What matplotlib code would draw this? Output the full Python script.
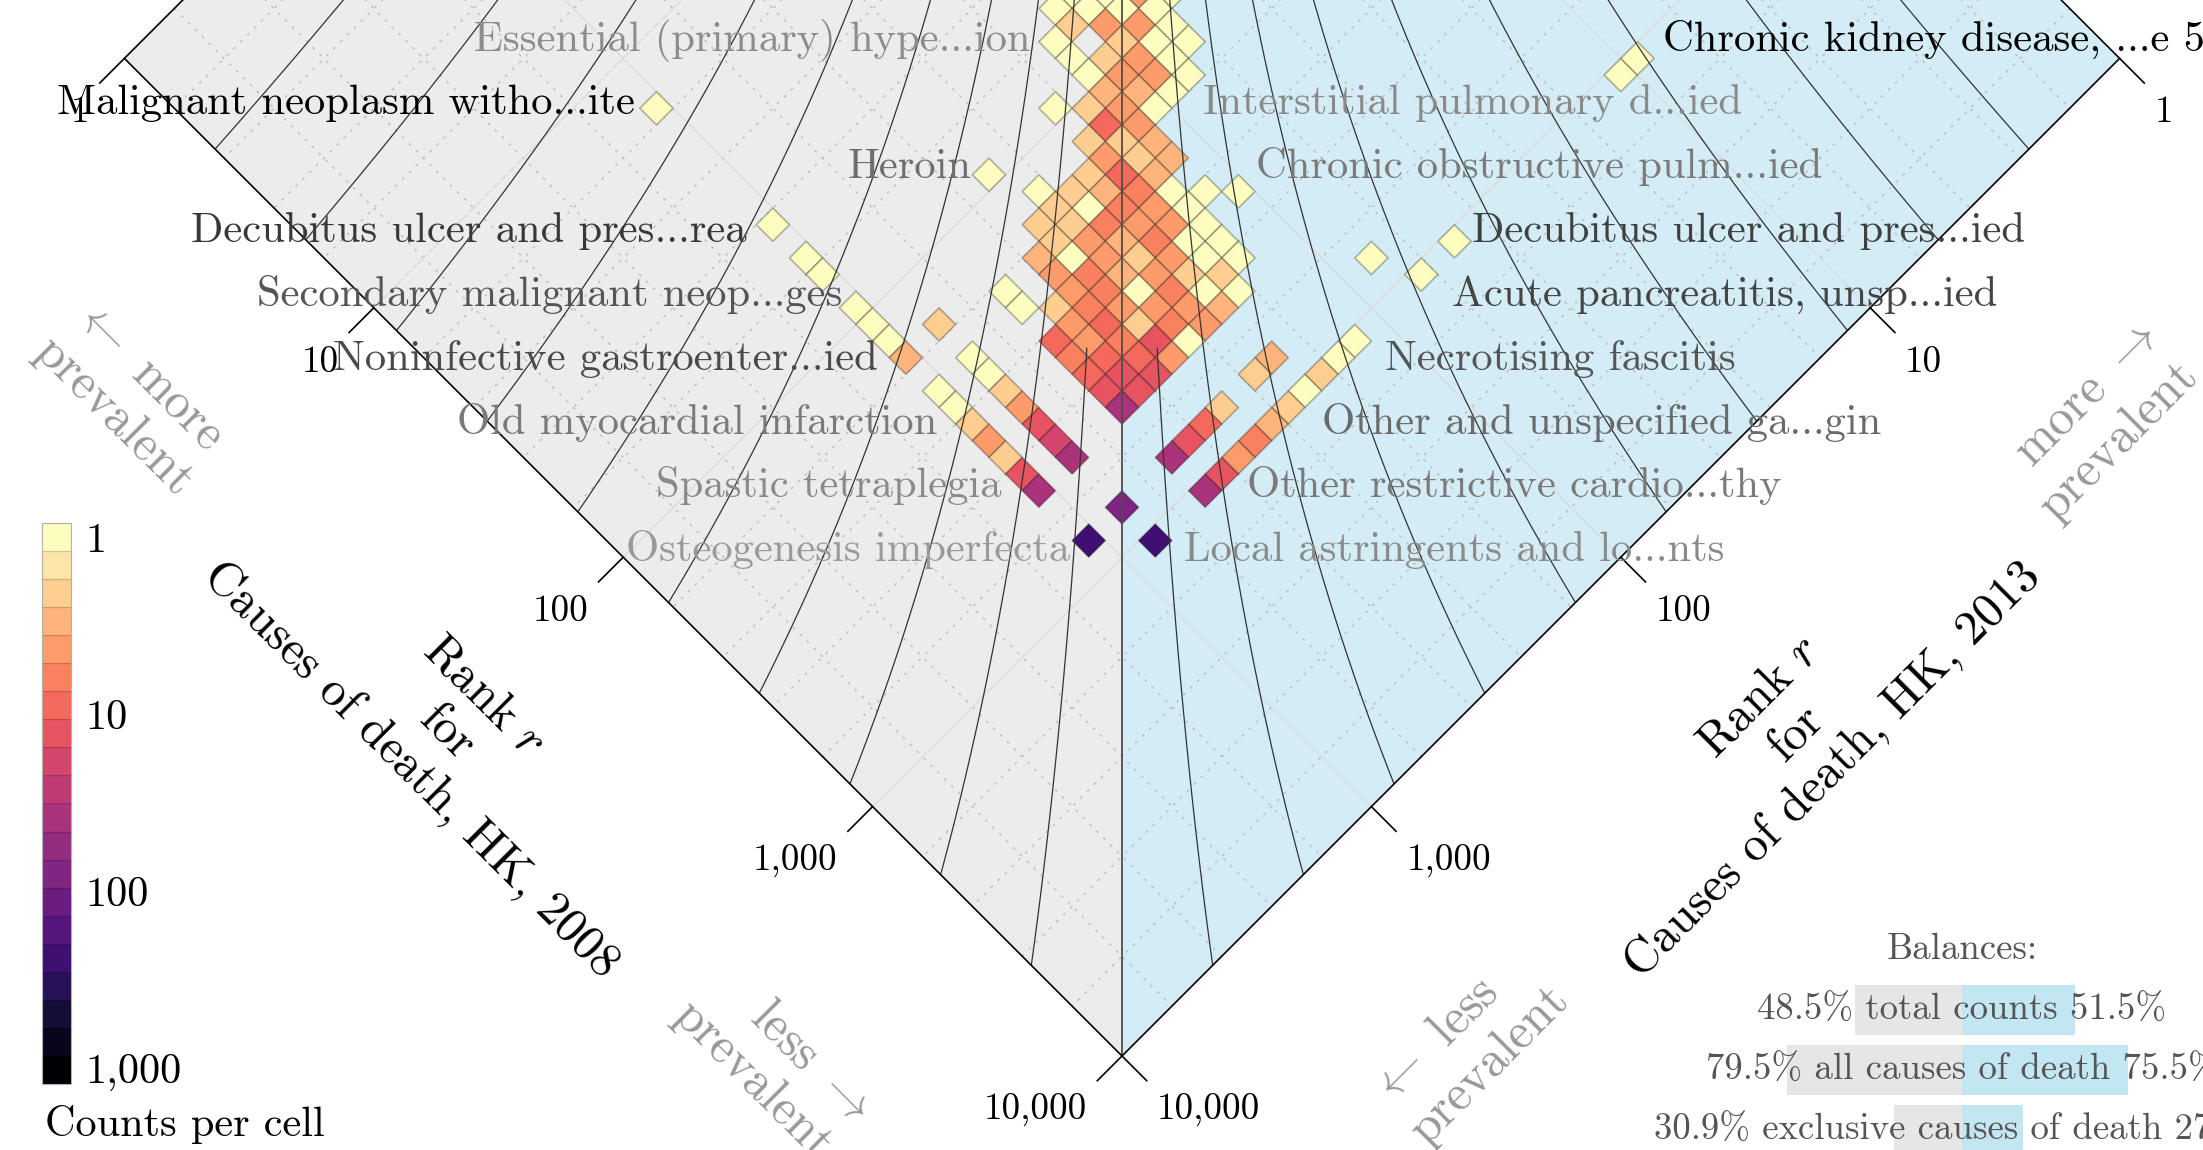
import numpy as np
import matplotlib.pyplot as plt
from matplotlib.colors import ListedColormap, LogNorm
from matplotlib.collections import PolyCollection
from matplotlib.patches import Polygon
from matplotlib.transforms import Affine2D

plt.rcParams['font.family'] = 'cmr10'
plt.rcParams['mathtext.fontset'] = 'cm'
plt.rcParams['axes.formatter.use_mathtext'] = True

# rank-rank histogram: 60 log bins over 4 decades of rank for each year
# bin of log10(rank) in 2008, bin of log10(rank) in 2013, causes in that cell
bin_2008 = [26, 27, 28, 29, 26, 27, 28, 29, 27, 28, 29, 30, 27, 29, 30, 31,
            28, 29, 30, 31, 29, 30, 31, 32, 30, 31, 32, 29, 30, 31, 32, 31, 32,
            31, 32, 33, 32, 33, 34, 29, 32, 33, 34,
            31, 32, 33, 34, 35, 36, 37, 32, 33, 34, 35, 36,
            32, 33, 34, 35, 36, 37, 33, 34, 35, 36, 37, 38,
            33, 34, 35, 36, 37, 38, 39, 34, 35, 36, 37, 38, 39,
            33, 35, 36, 37, 38, 39, 40, 34, 35, 36, 37, 38, 39, 40,
            36, 37, 38, 39, 40, 36, 37, 38, 39, 40, 37, 38, 39, 40,
            38, 39, 40, 39, 40, 40,
            17, 24, 26, 27, 29, 30, 31, 32, 32,
            34, 35, 36, 37, 38, 39, 40, 34, 35, 36, 37, 38, 39, 40,
            43, 43, 45,
            45, 45, 45, 43, 45,
            45, 45, 45, 45, 45, 45, 45, 45, 45, 45, 43, 43, 43, 43, 43, 43]
bin_2013 = [29, 28, 27, 26, 30, 29, 28, 27, 30, 29, 28, 27, 31, 29, 28, 27,
            31, 30, 29, 28, 31, 30, 29, 28, 31, 30, 29, 33, 32, 31, 30, 32, 31,
            33, 32, 31, 33, 32, 31, 37, 34, 33, 32,
            36, 35, 34, 33, 32, 31, 30, 36, 35, 34, 33, 32,
            37, 36, 35, 34, 33, 32, 37, 36, 35, 34, 33, 32,
            38, 37, 36, 35, 34, 33, 32, 38, 37, 36, 35, 34, 33,
            40, 38, 37, 36, 35, 34, 33, 40, 39, 38, 37, 36, 35, 34,
            39, 38, 37, 36, 35, 40, 39, 38, 37, 36, 40, 39, 38, 37,
            40, 39, 38, 40, 39, 40,
            45, 45, 45, 45, 45, 45, 45, 45, 43,
            43, 43, 43, 43, 43, 43, 43, 45, 45, 45, 45, 45, 45, 45,
            45, 43, 43,
            15, 14, 25, 28, 27,
            31, 32, 33, 34, 35, 36, 37, 38, 39, 40, 34, 35, 37, 38, 39, 40]
cell_counts = [1, 1, 4, 1, 1, 1, 1, 1, 2, 4, 4, 1, 1, 2, 1, 1,
               1, 2, 4, 1, 1, 4, 5, 1, 3, 3, 1, 1, 2, 4, 1, 8, 4,
               2, 2, 3, 4, 2, 3, 1, 2, 9, 3,
               1, 2, 3, 6, 1, 1, 1, 2, 1, 6, 4, 1,
               2, 2, 6, 4, 4, 1, 2, 4, 3, 6, 1, 1,
               3, 1, 4, 2, 4, 1, 1, 4, 6, 3, 4, 2, 2,
               1, 4, 6, 1, 6, 1, 1, 1, 2, 6, 4, 4, 4, 3,
               4, 8, 2, 6, 4, 9, 4, 6, 12, 1, 6, 9, 9, 5,
               9, 14, 12, 14, 14, 35,
               1, 1, 1, 1, 1, 1, 1, 3, 2,
               1, 1, 2, 4, 12, 18, 35, 1, 1, 2, 4, 2, 14, 35,
               240, 80, 240,
               1, 1, 1, 1, 1,
               1, 1, 2, 1, 2, 3, 6, 4, 14, 35, 3, 2, 2, 9, 14, 35]

labels_2008 = ['Essential (primary) hype...ion', 'Malignant neoplasm witho...ite',
               'Heroin', 'Decubitus ulcer and pres...rea',
               'Secondary malignant neop...ges', 'Noninfective gastroenter...ied',
               'Old myocardial infarction', 'Spastic tetraplegia',
               'Osteogenesis imperfecta']
labels_2013 = ['Chronic kidney disease, ...e 5', 'Interstitial pulmonary d...ied',
               'Chronic obstructive pulm...ied', 'Decubitus ulcer and pres...ied',
               'Acute pancreatitis, unsp...ied', 'Necrotising fascitis',
               'Other and unspecified ga...gin', 'Other restrictive cardio...thy',
               'Local astringents and lo...nts']

tick_ranks = [1, 10, 100, 1000, 10000]
cbar_ticks = [1, 10, 100, 1000]

balance_names = ['total counts', 'all causes of death', 'exclusive causes of death']
balance_2008 = [48.5, 79.5, 30.9]
balance_2013 = [51.5, 75.5, 27.7]

# ---------------------------------------------------------------- layout
W, H = 2203, 1150
XC, YTOP, K = 1122, -939.2, 249.4   # pixel position of diagonal, top vertex, px per decade

fig = plt.figure(figsize=(W / 100, H / 100), dpi=100)
ax = fig.add_axes([0, 0, 1, 1])
ax.set_xlim(-XC / K, (W - XC) / K)
ax.set_ylim((H - YTOP) / K, -YTOP / K)
ax.axis('off')
# (log r_2008, log r_2013) -> rotated diamond
rot = Affine2D(np.array([[1., -1., 0.], [1., 1., 0.], [0., 0., 1.]])) + ax.transData

ax.add_patch(Polygon([(0, 0), (0, 4), (4, 4)], closed=True, fc='#ececec', ec='none',
                     transform=rot, zorder=0))
ax.add_patch(Polygon([(0, 0), (4, 0), (4, 4)], closed=True, fc='#d3ecf5', ec='none',
                     transform=rot, zorder=0))

# grid: dotted every 3 bins, faint solid at decades
for g in np.arange(1, 20) * 0.2:
    if abs(g - round(g)) < 1e-6:
        continue
    ax.plot([g, g], [0, 4], color='#bdbdbd', lw=1.0, ls=(0, (2, 5)), transform=rot, zorder=1)
    ax.plot([0, 4], [g, g], color='#bdbdbd', lw=1.0, ls=(0, (2, 5)), transform=rot, zorder=1)
for g in [1, 2, 3]:
    ax.plot([g, g], [0, 4], color='#dcdcdc', lw=1.0, transform=rot, zorder=1)
    ax.plot([0, 4], [g, g], color='#dcdcdc', lw=1.0, transform=rot, zorder=1)

# cells
cmap = ListedColormap(plt.get_cmap('magma_r')(np.linspace(0, 1, 20)))
norm = LogNorm(10 ** -0.08, 10 ** 3.089)
d = 4 / 60
verts = [[(i * d, j * d), ((i + 1) * d, j * d), ((i + 1) * d, (j + 1) * d), (i * d, (j + 1) * d)]
         for i, j in zip(bin_2008, bin_2013)]
cells = PolyCollection(verts, array=np.array(cell_counts, float), cmap=cmap, norm=norm,
                       edgecolors=(0, 0, 0, 0.28), linewidths=1.2, transform=rot, zorder=3)
ax.add_collection(cells)

# rank-turbulence divergence contours (alpha = 1/3)
alpha = 1 / 3
g = np.linspace(0, 4, 801)
U, V = np.meshgrid(g, g)
Z = np.abs(10 ** (-alpha * U) - 10 ** (-alpha * V))
levels = np.sort(10 ** (-alpha * 4 * np.arange(1, 11) / 11) - 10 ** (-alpha * 4))
ax.contour(U, V, Z, levels=levels[1:], colors='#333333', linewidths=0.9,
           transform=rot, zorder=4)
ax.contour(U, V, np.ma.masked_where(U + V < 5.16, Z), levels=levels[:1], colors='#333333',
           linewidths=0.9, transform=rot, zorder=4)

ax.plot([0, 4], [0, 4], color='#4d4d4d', lw=1.3, transform=rot, zorder=4)
ax.plot([0, 4, 4], [4, 4, 0], color='k', lw=1.2, transform=rot, zorder=5)
ax.plot([0, 0, 4], [4, 0, 0], color='k', lw=1.2, transform=rot, zorder=5)

# rank ticks along both lower edges
for r in tick_ranks:
    k = np.log10(r)
    ax.plot([k, k], [4, 4.099], color='k', lw=1.2, transform=rot, clip_on=False, zorder=5)
    ax.plot([4, 4.099], [k, k], color='k', lw=1.2, transform=rot, clip_on=False, zorder=5)
    x0, y0 = k - 4, k + 4
    ax.text(x0 - 0.14, y0 + 0.257, f'{r:,}', ha='right', va='baseline', fontsize=26.7)
    ax.text(-x0 + 0.14, y0 + 0.257, f'{r:,}', ha='left', va='baseline', fontsize=26.7)

# ---------------------------------------------------------------- annotations in pixels
pix = fig.add_axes([0, 0, 1, 1], zorder=5)
pix.set_xlim(0, W)
pix.set_ylim(H, 0)
pix.axis('off')

rows = 50.7 + 63.8 * np.arange(9)
left_ends = [1031, 635, 972, 747, 842, 878, 937, 1002, 1070]
right_starts = [1663, 1203, 1256, 1472, 1452, 1385, 1322, 1247, 1184]
left_colors = ['#8c8c8c', '#000000', '#6e6e6e', '#383838', '#555555', '#4a4a4a',
               '#7a7a7a', '#8a8a8a', '#9a9a9a']
right_colors = ['#000000', '#8a8a8a', '#7a7a7a', '#404040', '#454545', '#555555',
                '#6a6a6a', '#7a7a7a', '#8a8a8a']
for t, x, y, c in zip(labels_2008, left_ends, rows, left_colors):
    pix.text(x, y, t, ha='right', va='baseline', fontsize=30.7, color=c)
for t, x, y, c in zip(labels_2013, right_starts, rows, right_colors):
    pix.text(x, y, t, ha='left', va='baseline', fontsize=30.7, color=c, clip_on=True)

title_kw = dict(ha='center', va='center', multialignment='center', rotation_mode='anchor',
                fontsize=35)
pix.text(447, 733, 'Rank $r$\nfor\nCauses of death, HK, 2008', rotation=-45, **title_kw)
pix.text(1796, 734, 'Rank $r$\nfor\nCauses of death, HK, 2013', rotation=45, **title_kw)

prev_kw = dict(ha='center', va='center', rotation_mode='anchor', fontsize=36,
               color='#999999', linespacing=1.25)
pix.text(133, 398, '$\\leftarrow$ more\nprevalent', rotation=-45, multialignment='left', **prev_kw)
pix.text(2099, 421, 'more $\\rightarrow$\nprevalent', rotation=45, multialignment='right', **prev_kw)
pix.text(772, 1062, 'less $\\rightarrow$\nprevalent', rotation=-45, multialignment='right', **prev_kw)
pix.text(1470, 1045, '$\\leftarrow$ less\nprevalent', rotation=45, multialignment='left', **prev_kw)

# balances
bx, scale = 1962, 2.2
by = np.array([1010, 1070, 1130])
pix.barh(by, np.array(balance_2008) * scale, left=bx - np.array(balance_2008) * scale,
         height=50, color='#e6e6e6', zorder=1)
pix.barh(by, np.array(balance_2013) * scale, left=bx, height=50, color='#c2e6f2', zorder=1)
pix.text(bx, 959, 'Balances:', ha='center', va='baseline', fontsize=26.5, color='#555555')
for name, a, b, y in zip(balance_names, balance_2008, balance_2013, by):
    pix.text(bx, y + 9.5, f'{a:.1f}% {name} {b:.1f}%', ha='center', va='baseline',
             fontsize=26.5, color='#555555', zorder=2)

# colorbar
cax = fig.add_axes([42 / W, 1 - 1084 / H, 29 / W, 561 / H])
cb = fig.colorbar(cells, cax=cax)
cb.set_ticks(cbar_ticks, labels=[f'{t:,}' for t in cbar_ticks])
cax.minorticks_off()
cax.tick_params(length=0, labelsize=30.5, pad=10)
cax.invert_yaxis()
cb.outline.set_edgecolor('#b0b0b0')
cb.outline.set_linewidth(0.8)
for b in np.logspace(-0.08, 3.089, 21)[1:-1]:
    cax.axhline(b, color=(0, 0, 0, 0.15), lw=1)
pix.text(45, 1136, 'Counts per cell', ha='left', va='baseline', fontsize=30.5)

fig.savefig('out.png', dpi=100)
